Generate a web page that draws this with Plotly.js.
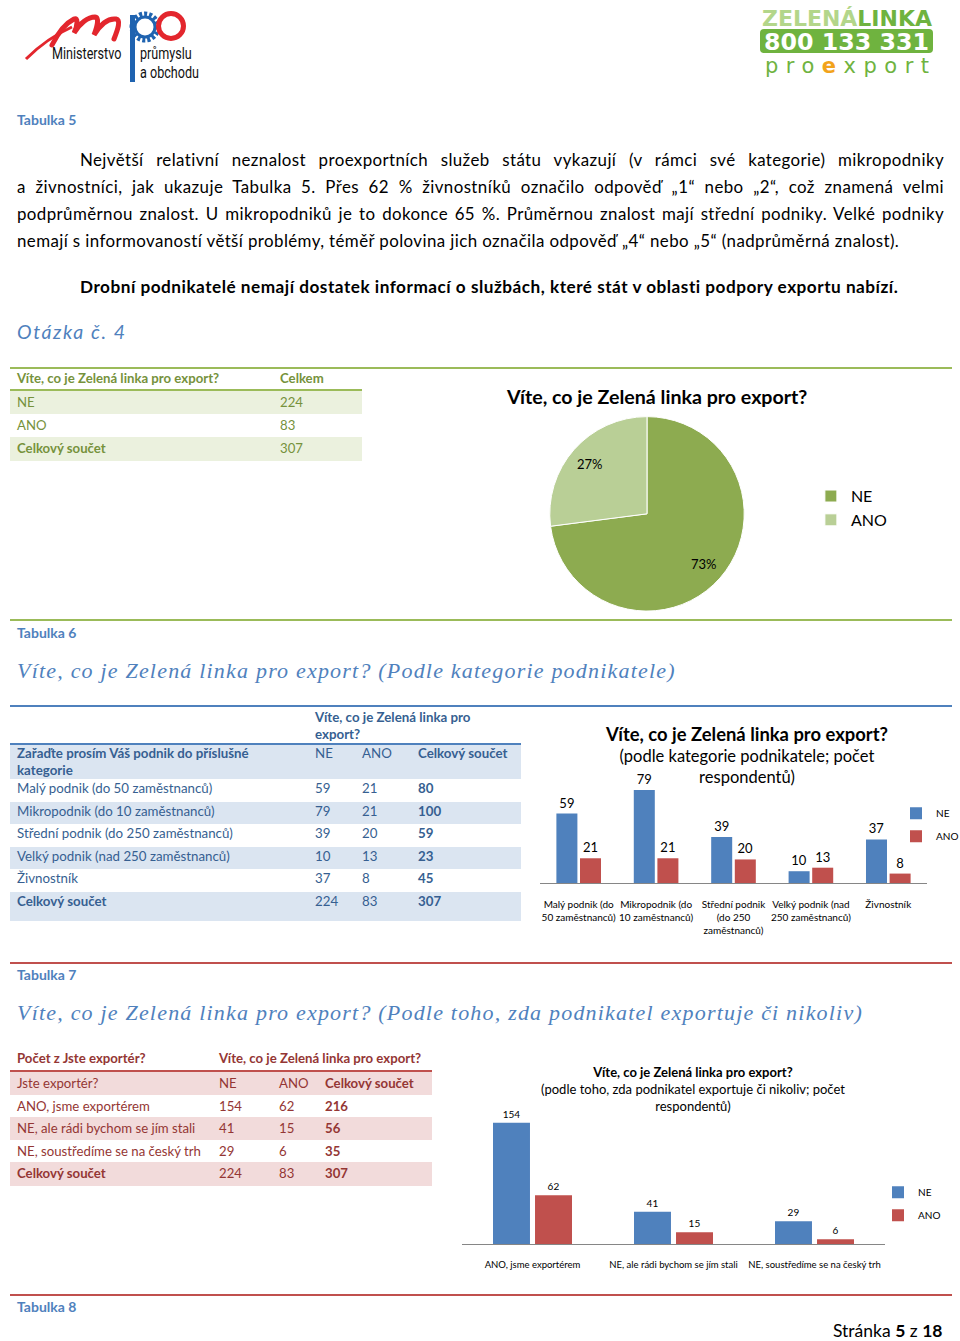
<!DOCTYPE html>
<html>
<head>
<meta charset="utf-8">
<script src="https://cdn.plot.ly/plotly-3.0.1.min.js"></script>
<style>
  html, body { margin:0; padding:0; background:#fff; }
  #page { position:relative; width:960px; height:1341px; overflow:hidden; background:#fff;
          font-family: Lato, "Open Sans", sans-serif; color:#000; }
  .abs { position:absolute; white-space:nowrap; }
  .tab { color:#4f81bd; font-weight:bold; font-size:14px; }
  .pline { position:absolute; left:17px; width:927px; font-size:16.9px; letter-spacing:0.4px; line-height:27px;
           text-align:justify; text-align-last:justify; white-space:normal; }
  .serif { font-family:"Liberation Serif", serif; font-style:italic; color:#4f81bd;
           font-size:22px; letter-spacing:1.2px; }
  .hr { position:absolute; left:10px; width:942px; height:2px; }
  .row { position:absolute; }
  .cell { position:absolute; top:0; white-space:nowrap; }
  .chart { position:absolute; }
  .logo { position:absolute; font-family: Roboto, "DejaVu Sans", sans-serif; font-size:17px; color:#111;
          transform-origin: 0 0; transform: scaleX(0.74); white-space:nowrap; line-height:19px; }
</style>
</head>
<body>
<div id="page">
  <!-- MPO logo -->
  <svg class="abs" style="left:20px;top:5px" width="170" height="80" viewBox="0 0 170 80">
    <path d="M6,54 C20,40 34,30 52,22" stroke="#e3262d" stroke-width="3" fill="none"/>
    <path d="M32,40 C38,28 46,18 54,14 C58,12 58,20 54,28 C60,18 68,12 75,12 C79,12 78,20 74,30 C80,20 88,13 96,14 C101,15 98,24 94,34"
          stroke="#e3262d" stroke-width="5" fill="none" stroke-linecap="round"/>
    <circle cx="125" cy="22" r="13" fill="none" stroke="#1f63b0" stroke-width="5" stroke-dasharray="3 2"/>
    <circle cx="125" cy="22" r="10" fill="none" stroke="#1f63b0" stroke-width="3"/>
    <circle cx="151" cy="21" r="12.5" fill="none" stroke="#e3262d" stroke-width="5"/>
    <rect x="110" y="10" width="5" height="67" fill="#1f63b0"/>
  </svg>
  <div class="logo" style="left:52px;top:44px">Ministerstvo</div>
  <div class="logo" style="left:140px;top:44px">průmyslu</div>
  <div class="logo" style="left:140px;top:63px">a obchodu</div>
  <!-- Zelená linka logo -->
  <svg class="abs" style="left:755px;top:2px" width="185" height="78" viewBox="0 0 185 78">
    <text x="7" y="24" font-family="DejaVu Sans" font-weight="bold" font-size="22" textLength="170" lengthAdjust="spacingAndGlyphs"><tspan fill="#b3d68a">ZELENÁ</tspan><tspan fill="#6fb33f">LINKA</tspan></text>
    <rect x="5" y="27" width="173" height="24" rx="4" fill="#6fb33f"/>
    <text x="9" y="48" font-family="DejaVu Sans" font-weight="bold" font-size="23" fill="#fff" textLength="165" lengthAdjust="spacingAndGlyphs">800 133 331</text>
    <text x="10" y="71" font-family="DejaVu Sans" font-size="21" fill="#6fb33f" textLength="164" lengthAdjust="spacing">pro<tspan fill="#f2a31b" font-weight="bold">e</tspan>xport</text>
  </svg>

  <div class="abs tab" style="left:17px;top:111px">Tabulka 5</div>

  <div class="pline" style="top:146px;padding-left:63px;width:864px">Největší relativní neznalost proexportních služeb státu vykazují (v rámci své kategorie) mikropodniky</div>
  <div class="pline" style="top:173px">a živnostníci, jak ukazuje Tabulka 5. Přes 62 % živnostníků označilo odpověď „1“ nebo „2“, což znamená velmi</div>
  <div class="pline" style="top:200px">podprůměrnou znalost. U mikropodniků je to dokonce 65 %. Průměrnou znalost mají střední podniky. Velké podniky</div>
  <div class="pline" style="top:227px;text-align:left;text-align-last:left">nemají s informovaností větší problémy, téměř polovina jich označila odpověď „4“ nebo „5“ (nadprůměrná znalost).</div>
  <div class="abs" style="left:80px;top:273px;font-size:17.2px;letter-spacing:0.5px;font-weight:bold;line-height:27px">Drobní podnikatelé nemají dostatek informací o službách, které stát v oblasti podpory exportu nabízí.</div>

  <div class="abs" style="left:17px;top:320px;font-size:19.5px;font-style:italic;color:#4f81bd;letter-spacing:1.6px">Otázka č. 4</div>

  <div class="hr" style="top:367px;background:#9bbb59"></div>
  <div id="t1"></div>
  <div id="pie" class="chart" style="left:480px;top:370px;width:470px;height:248px"></div>
  <div class="hr" style="top:619px;background:#9bbb59"></div>

  <div class="abs tab" style="left:17px;top:624px">Tabulka 6</div>
  <div class="abs serif" style="left:17px;top:658px">Víte, co je Zelená linka pro export? (Podle kategorie podnikatele)</div>

  <div class="hr" style="top:705px;background:#4f81bd"></div>
  <div id="t2"></div>
  <div id="bar1" class="chart" style="left:530px;top:712px;width:490px;height:228px"></div>

  <div class="hr" style="top:962px;background:#c0504d"></div>
  <div class="abs tab" style="left:17px;top:966px">Tabulka 7</div>
  <div class="abs serif" style="left:17px;top:1000px">Víte, co je Zelená linka pro export? (Podle toho, zda podnikatel exportuje či nikoliv)</div>

  <div id="t3"></div>
  <div id="bar2" class="chart" style="left:460px;top:1050px;width:560px;height:230px"></div>

  <div class="hr" style="top:1294px;background:#c0504d"></div>
  <div class="abs tab" style="left:17px;top:1298px">Tabulka 8</div>
  <div class="abs" style="left:833px;top:1320px;font-size:17.5px">Stránka <b>5</b> z <b>18</b></div>
</div>

<script>
// ---------- DATA ----------
const q4Header = 'Víte, co je Zelená linka pro export?';
const q4ColHeader = 'Celkem';
const pieLabels = ['NE', 'ANO'];
const pieValues = [224, 83];
const pieTotalLabel = 'Celkový součet';
const pieTotal = 307;

const catHeaderTop = ['Víte, co je Zelená linka pro', 'export?'];
const catRowHeader = ['Zařaďte prosím Váš podnik do příslušné', 'kategorie'];
const catColumns = ['NE', 'ANO', 'Celkový součet'];
const categories = ['Malý podnik (do 50 zaměstnanců)', 'Mikropodnik (do 10 zaměstnanců)',
  'Střední podnik (do 250 zaměstnanců)', 'Velký podnik (nad 250 zaměstnanců)', 'Živnostník'];
const categoryTicks = ['Malý podnik (do<br>50 zaměstnanců)', 'Mikropodnik (do<br>10 zaměstnanců)',
  'Střední podnik<br>(do 250<br>zaměstnanců)', 'Velký podnik (nad<br>250 zaměstnanců)', 'Živnostník'];
const catNE = [59, 79, 39, 10, 37];
const catANO = [21, 21, 20, 13, 8];
const catTotal = [80, 100, 59, 23, 45];
const catSum = [224, 83, 307];

const expHeader = ['Počet z Jste exportér?', 'Víte, co je Zelená linka pro export?'];
const expRowHeader = 'Jste exportér?';
const exporters = ['ANO, jsme exportérem', 'NE, ale rádi bychom se jím stali', 'NE, soustředíme se na český trh'];
const expNE = [154, 41, 29];
const expANO = [62, 15, 6];
const expTotal = [216, 56, 35];
const expSum = [224, 83, 307];

const title1 = 'Víte, co je Zelená linka pro export?';
const title2 = '<b><span style="font-size:18.4px">Víte, co je Zelená linka pro export?</span></b><br>(podle kategorie podnikatele; počet<br>respondentů)';
const title3 = '<b>Víte, co je Zelená linka pro export?</b><br>(podle toho, zda podnikatel exportuje či nikoliv; počet<br>respondentů)';

// ---------- TABLE HELPERS ----------
function mkRow(parent, top, left, width, height, bg, cells, color, size) {
  const r = document.createElement('div');
  r.className = 'row';
  Object.assign(r.style, {top: top + 'px', left: left + 'px', width: width + 'px', height: height + 'px',
    background: bg || 'transparent', color: color, fontSize: size + 'px', lineHeight: '20px'});
  cells.forEach(c => {
    const s = document.createElement('div');
    s.className = 'cell';
    s.style.left = (c.x - left) + 'px';
    s.style.top = (c.dy || 0) + 'px';
    if (c.bold) s.style.fontWeight = 'bold';
    s.innerHTML = c.t;
    r.appendChild(s);
  });
  parent.appendChild(r);
}
function mkLine(parent, top, left, width, color) {
  const line = document.createElement('div');
  Object.assign(line.style, {position: 'absolute', left: left + 'px', top: top + 'px', width: width + 'px', height: '2px', background: color});
  parent.appendChild(line);
}

// Table 1
(function () {
  const p = document.getElementById('t1');
  const G = '#76923c', BG = '#ebf1de';
  mkRow(p, 368, 10, 352, 22, null, [{x: 17, t: q4Header, bold: true}, {x: 280, t: q4ColHeader, bold: true}], G, 13.2);
  mkLine(p, 389, 10, 352, '#9bbb59');
  pieLabels.forEach((l, i) => {
    mkRow(p, 391 + i * 23, 10, 352, 23, i % 2 === 0 ? BG : null, [{x: 17, t: l, dy: 1}, {x: 280, t: pieValues[i], dy: 1}], G, 13.2);
  });
  mkRow(p, 437, 10, 352, 24, BG, [{x: 17, t: pieTotalLabel, bold: true, dy: 1}, {x: 280, t: pieTotal, dy: 1}], G, 13.2);
})();

// Table 2
(function () {
  const p = document.getElementById('t2');
  const C = '#365f91', BG = '#dbe5f1';
  mkRow(p, 707, 10, 511, 37, null, [{x: 315, t: catHeaderTop[0], bold: true}, {x: 315, t: catHeaderTop[1], bold: true, dy: 17}], C, 13.3);
  mkLine(p, 743, 10, 511, '#4f81bd');
  mkRow(p, 745, 10, 511, 34, BG, [{x: 17, t: catRowHeader[0], bold: true, dy: -2}, {x: 17, t: catRowHeader[1], bold: true, dy: 15},
    {x: 315, t: catColumns[0], dy: -2}, {x: 362, t: catColumns[1], dy: -2}, {x: 418, t: catColumns[2], bold: true, dy: -2}], C, 13.3);
  categories.forEach((c, i) => {
    mkRow(p, 779 + i * 22.6, 10, 511, 22.6, i % 2 === 1 ? BG : null,
      [{x: 17, t: c, dy: -1}, {x: 315, t: catNE[i], dy: -1}, {x: 362, t: catANO[i], dy: -1}, {x: 418, t: catTotal[i], bold: true, dy: -1}], C, 13.3);
  });
  mkRow(p, 892, 10, 511, 29, BG, [{x: 17, t: 'Celkový součet', bold: true, dy: -1}, {x: 315, t: catSum[0], dy: -1},
    {x: 362, t: catSum[1], dy: -1}, {x: 418, t: catSum[2], bold: true, dy: -1}], C, 13.3);
})();

// Table 3
(function () {
  const p = document.getElementById('t3');
  const C = '#943634', BG = '#f2dbdb';
  mkRow(p, 1048, 10, 422, 22, null, [{x: 17, t: expHeader[0], bold: true}, {x: 219, t: expHeader[1], bold: true}], C, 13.2);
  mkLine(p, 1070, 10, 422, '#c0504d');
  mkRow(p, 1072, 10, 422, 22.6, BG, [{x: 17, t: expRowHeader, dy: 1}, {x: 219, t: 'NE', dy: 1}, {x: 279, t: 'ANO', dy: 1}, {x: 325, t: 'Celkový součet', bold: true, dy: 1}], C, 13.2);
  exporters.forEach((c, i) => {
    mkRow(p, 1094.6 + i * 22.6, 10, 422, 22.6, i % 2 === 1 ? BG : null,
      [{x: 17, t: c, dy: 1}, {x: 219, t: expNE[i], dy: 1}, {x: 279, t: expANO[i], dy: 1}, {x: 325, t: expTotal[i], bold: true, dy: 1}], C, 13.2);
  });
  mkRow(p, 1162.4, 10, 422, 24, BG, [{x: 17, t: 'Celkový součet', bold: true, dy: 1}, {x: 219, t: expSum[0], dy: 1},
    {x: 279, t: expSum[1], dy: 1}, {x: 325, t: expSum[2], bold: true, dy: 1}], C, 13.2);
})();

// ---------- CHARTS ----------
const FONT = 'Lato, "Open Sans", sans-serif';
const cfg = {displayModeBar: false, staticPlot: true};

// pie: percentage labels placed at the middle angle of each slice
const PIE_W = 470, PIE_H = 248;
const pieDomX = [0.1468, 0.5638], pieDomY = [0.028, 0.812];
const pcx = (pieDomX[0] + pieDomX[1]) / 2, pcy = (pieDomY[0] + pieDomY[1]) / 2;
const pr = Math.min((pieDomX[1] - pieDomX[0]) * PIE_W, (pieDomY[1] - pieDomY[0]) * PIE_H) / 2;
const pieSum = pieValues.reduce((a, b) => a + b, 0);
let cum = 0;
const pieAnn = pieValues.map(v => {
  const mid = (cum + v / 2) / pieSum * 2 * Math.PI; cum += v;
  const rr = pr * 0.78;
  return {x: pcx + rr * Math.sin(mid) / PIE_W, y: pcy + rr * Math.cos(mid) / PIE_H, xref: 'paper', yref: 'paper',
    xanchor: 'center', yanchor: 'middle',
    text: Math.round(v / pieSum * 100) + '%', showarrow: false, font: {size: 13, color: '#000'}};
});

Plotly.newPlot('pie', [{
  type: 'pie', labels: pieLabels, values: pieValues, sort: false, direction: 'clockwise', rotation: 0,
  marker: {colors: ['#8dab50', '#b9cf96'], line: {color: '#ffffff', width: 1}},
  textinfo: 'none', domain: {x: pieDomX, y: pieDomY}, hoverinfo: 'none'
}], {
  width: PIE_W, height: PIE_H, margin: {l: 0, r: 0, t: 0, b: 0},
  paper_bgcolor: '#fff', font: {family: FONT, color: '#000'},
  title: {text: '<b>' + title1 + '</b>', font: {size: 19.6}, x: 0.377, xref: 'container', xanchor: 'center', y: 0.92, yref: 'container', yanchor: 'top'},
  annotations: pieAnn,
  showlegend: true,
  legend: {x: 0.704, y: 0.56, xanchor: 'left', yanchor: 'top', font: {size: 16}}
}, cfg);

const barLayoutBase = (opts) => ({
  width: opts.w, height: opts.h, margin: opts.m, paper_bgcolor: 'rgba(0,0,0,0)', plot_bgcolor: 'rgba(0,0,0,0)',
  font: {family: FONT, color: '#000'},
  title: {text: opts.title, font: {size: opts.tsize}, x: opts.tx, xref: 'container', xanchor: 'center', y: opts.ty, yref: 'container', yanchor: 'top'},
  barmode: 'group', bargap: opts.bargap, bargroupgap: opts.bgg,
  xaxis: {showline: true, linecolor: '#868686', linewidth: 1, ticks: '', tickangle: 0, tickfont: {size: opts.tick},
          ticklabelstandoff: opts.standoff, showgrid: false, zeroline: false, fixedrange: true, automargin: false},
  yaxis: {visible: false, range: opts.range, fixedrange: true},
  showlegend: true,
  legend: {x: opts.lx, y: opts.ly, xref: 'paper', xanchor: 'left', yanchor: 'middle', font: {size: 10},
           bgcolor: 'rgba(0,0,0,0)', traceorder: 'grouped', tracegroupgap: opts.gap}
});

// bar chart 1: div 530..1020, plot area 540..927
Plotly.newPlot('bar1', [
  {type: 'bar', name: 'NE', x: categoryTicks, y: catNE, marker: {color: '#4f81bd'}, legendgroup: 'a',
   texttemplate: '%{y}', textposition: 'outside', textfont: {size: 13, color: '#000'}, cliponaxis: false, hoverinfo: 'none'},
  {type: 'bar', name: 'ANO', x: categoryTicks, y: catANO, marker: {color: '#c0504d'}, legendgroup: 'b',
   texttemplate: '%{y}', textposition: 'outside', textfont: {size: 13, color: '#000'}, cliponaxis: false, hoverinfo: 'none'}
], barLayoutBase({w: 490, h: 228, m: {l: 10, r: 93, t: 65, b: 57}, title: title2, tsize: 16.5, tx: 217 / 490, ty: 0.875,
  bargap: 0.39, bgg: 0.11, range: [0, 90], lx: (896 - 540) / 387, ly: 0.55, gap: 4, tick: 10, standoff: 12}), cfg);

// bar chart 2: div 460..1020, plot area 462..885
Plotly.newPlot('bar2', [
  {type: 'bar', name: 'NE', x: exporters, y: expNE, marker: {color: '#4f81bd'}, legendgroup: 'a',
   texttemplate: '%{y}', textposition: 'outside', textfont: {size: 10, color: '#000'}, cliponaxis: false, hoverinfo: 'none'},
  {type: 'bar', name: 'ANO', x: exporters, y: expANO, marker: {color: '#c0504d'}, legendgroup: 'b',
   texttemplate: '%{y}', textposition: 'outside', textfont: {size: 10, color: '#000'}, cliponaxis: false, hoverinfo: 'none'}
], barLayoutBase({w: 560, h: 230, m: {l: 2, r: 135, t: 64, b: 36}, title: title3, tsize: 13, tx: 233 / 560, ty: 0.883,
  bargap: 0.404, bgg: 0.12, range: [0, 165], lx: (878 - 462) / 423, ly: 0.31, gap: 4, tick: 9.5, standoff: 12}), cfg);
</script>
</body>
</html>
